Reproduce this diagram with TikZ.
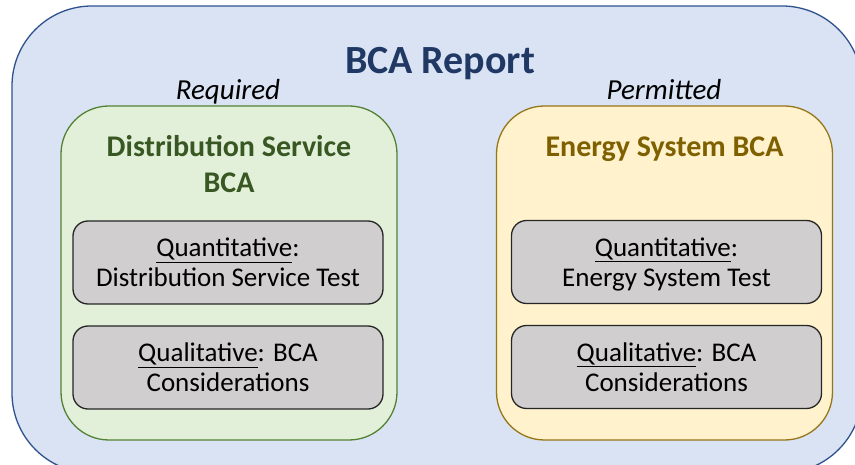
\documentclass[tikz,border=0pt]{standalone}
\usepackage{fontspec}
\setmainfont{Carlito}
\usepackage{tikz}
\usetikzlibrary{calc}
\definecolor{reportfill}{RGB}{218, 227, 243}
\definecolor{reportline}{RGB}{47, 82, 143}
\definecolor{reportnavy}{RGB}{32, 56, 100}
\definecolor{distfill}{RGB}{226, 240, 217}
\definecolor{distline}{RGB}{84, 130, 53}
\definecolor{disttext}{RGB}{56, 87, 35}
\definecolor{energyfill}{RGB}{255, 242, 204}
\definecolor{energyline}{RGB}{150, 118, 25}
\definecolor{energytext}{RGB}{127, 96, 0}
\definecolor{cellgray}{RGB}{208, 206, 206}
\definecolor{cellline}{RGB}{38, 38, 38}

\begin{document}
\begin{tikzpicture}[
    x = 1pt, y = -1pt,
    frame/.style = {draw, line width = 1.3pt, rounded corners = 48pt,
                    minimum width = 336pt, minimum height = 334pt, inner sep = 0pt},
    cell/.style = {draw = cellline, fill = cellgray, line width = 1.3pt, rounded corners = 15pt,
                   minimum width = 310pt, minimum height = 83pt, inner sep = 0pt, align = center,
                   text depth = 0pt, font = \fontsize{27}{30}\selectfont},
    head/.style = {anchor = base, align = center, font = \fontsize{30}{36}\selectfont\bfseries},
    tag/.style = {anchor = base, font = \fontsize{29}{34}\selectfont\itshape}
]
\useasboundingbox (0,0) rectangle (855,465);
\clip (0,0) rectangle (855,465);

% outer report box
\node[draw = reportline, fill = reportfill, line width = 1.3pt, rounded corners = 80pt,
      minimum width = 850pt, minimum height = 467pt, inner sep = 0pt] (report) at (437,239.5) {};
\node[anchor = base, text = reportnavy, font = \fontsize{40}{48}\selectfont\bfseries] (title) at (440,74) {BCA Report};

% required side
\node[tag] (req) at (228,100) {Required};
\node[frame, draw = distline, fill = distfill] (dist) at (229,273) {};
\node[head, text = disttext] (disthead) at (229,193) {Distribution Service\\BCA};
\node[cell] (distquant) at (228,262.5) {\underline{Quantitative}:\\Distribution Service Test};
\node[cell] (distqual) at (228,367.5) {\underline{Qualitative}: BCA\\Considerations};

% permitted side
\node[tag] (perm) at (664,100) {Permitted};
\node[frame, draw = energyline, fill = energyfill] (energy) at (664.5,273) {};
\node[head, text = energytext] (energyhead) at (664.5,157) {Energy System BCA};
\node[cell] (energyquant) at (666.5,262) {\underline{Quantitative}:\\Energy System Test};
\node[cell] (energyqual) at (666.5,367) {\underline{Qualitative}: BCA\\Considerations};

\end{tikzpicture}
\end{document}
